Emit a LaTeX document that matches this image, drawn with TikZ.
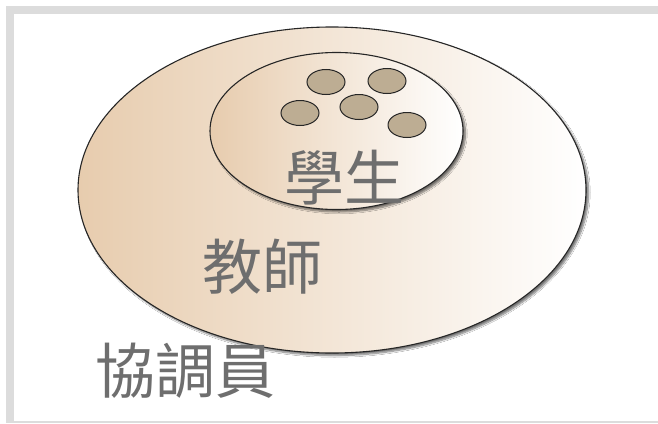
\documentclass[tikz,border=0pt]{standalone}
\usepackage{fontspec}
\newfontfamily\cjk{Noto Sans CJK TC}
\usetikzlibrary{shapes.geometric,shadows.blur}
\definecolor{tanleft}{HTML}{E7CCAE}
\definecolor{dotfill}{HTML}{BDAD93}
\definecolor{framegray}{HTML}{DCDCDC}
\definecolor{labelgray}{HTML}{6E6E6E}
\begin{document}
\begin{tikzpicture}[x=1pt,y=-1pt,inner sep=0pt,outer sep=0pt,
setblob/.style={draw=black!85,ellipse,line width=1.1pt,left color=tanleft,right color=white,
  blur shadow={shadow xshift=2.5pt,shadow yshift=-2.5pt,shadow blur steps=8,shadow opacity=55}},
person/.style={draw=black!85,ellipse,line width=1pt,fill=dotfill,minimum width=38pt,minimum height=25pt},
setlabel/.style={text=labelgray,font=\cjk\fontsize{60}{70}\selectfont}]
\useasboundingbox (0,0) rectangle (658,423);

% frame
\fill[framegray] (6,6) rectangle (658,423);
\fill[white] (14,14) rectangle (658,420.5);

% sets
\node[setblob,minimum width=508pt,minimum height=326pt] (coord) at (332,190) {};
\node[setblob,minimum width=253pt,minimum height=157pt] (teach) at (336.5,131) {};

% students
\node[person] (s1) at (326,82) {};
\node[person] (s2) at (387,81) {};
\node[person] (s3) at (300,113) {};
\node[person] (s4) at (359,107) {};
\node[person] (s5) at (407,125) {};

% labels
\node[setlabel] (lstud) at (344,178) {學生};
\node[setlabel] (lteach) at (262,267) {教師};
\node[setlabel] (lcoord) at (185,371) {協調員};
\end{tikzpicture}
\end{document}
